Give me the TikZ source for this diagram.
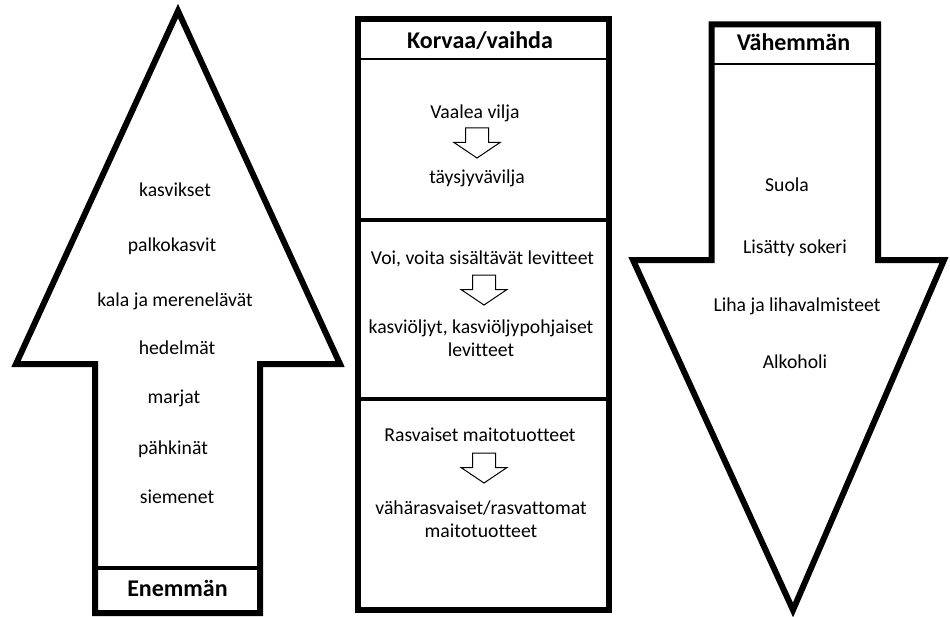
\documentclass[tikz,border=0pt]{standalone}
\usepackage{fontspec}
\setmainfont{Carlito}[Ligatures=NoCommon]
\begin{document}
\begin{tikzpicture}[x=1bp,y=-1bp,
  outer/.style={draw=black,line width=6bp,line join=miter,fill=white},
  thinsep/.style={draw=black,line width=2.5bp},
  thicksep/.style={draw=black,line width=4.5bp},
  item/.style={inner sep=0pt,anchor=mid,yshift=-4bp,font=\fontsize{19.7bp}{23bp}\selectfont},
  twoline/.style={inner sep=0pt,anchor=center,align=center,yshift=-4bp,font=\fontsize{19.7bp}{23.5bp}\selectfont},
  head/.style={inner sep=0pt,anchor=mid,yshift=-4bp,font=\fontsize{24bp}{28bp}\selectfont\bfseries},
  smallarr/.pic={\draw[line width=1bp,fill=white] (-11.5,0) -- (11.5,0) -- (11.5,14.5) -- (23,14.5) -- (0,30) -- (-23,14.5) -- (-11.5,14.5) -- cycle;}
]
\useasboundingbox (0,0) rectangle (950,617);
% left arrow (more)
\draw[outer] (178,11) -- (340,364) -- (260,364) -- (260,613) -- (95,613) -- (95,364) -- (16,364) -- cycle;
\draw[thicksep] (95,568) -- (260,568);
% middle column
\draw[outer] (358,19) rectangle (608.5,610);
\draw[thinsep] (358,59) -- (608.5,59);
\draw[thicksep] (358,220) -- (608.5,220);
\draw[thicksep] (358,399) -- (608.5,399);
% right arrow (less)
\draw[outer] (711.5,24.5) -- (878,24.5) -- (878,260) -- (944,260) -- (793,610) -- (633,260) -- (711.5,260) -- cycle;
\draw[thinsep] (711.5,64) -- (878,64);
% small arrows
\pic at (477,128) {smallarr};
\pic at (484,275) {smallarr};
\pic at (484,453) {smallarr};
% left texts
\node[item] (l1) at (175,190) {kasvikset};
\node[item] (l2) at (172,245) {palkokasvit};
\node[item] (l3) at (175,300) {kala ja merenelävät};
\node[item] (l4) at (177,348) {hedelmät};
\node[item] (l5) at (174,397) {marjat};
\node[item] (l6) at (173,448) {pähkinät};
\node[item] (l7) at (177,497) {siemenet};
\node[head] (lh) at (177.5,590) {Enemmän};
% middle texts
\node[head] (mh) at (480,42) {Korvaa/vaihda};
\node[item] (m1a) at (475,112) {Vaalea vilja};
\node[item] (m1b) at (477,177) {täysjyvävilja};
\node[item] (m2a) at (482.5,258) {Voi, voita sisältävät levitteet};
\node[twoline] (m2b) at (481,334) {kasviöljyt, kasviöljypohjaiset\\levitteet};
\node[item] (m3a) at (480,435) {Rasvaiset maitotuotteet};
\node[twoline] (m3b) at (481,515) {vähärasvaiset/rasvattomat\\maitotuotteet};
% right texts
\node[head] (rh) at (793.5,44) {Vähemmän};
\node[item] (r1) at (787,185) {Suola};
\node[item] (r2) at (795,247) {Lisätty sokeri};
\node[item] (r3) at (797,305) {Liha ja lihavalmisteet};
\node[item] (r4) at (795,362) {Alkoholi};
\end{tikzpicture}
\end{document}
